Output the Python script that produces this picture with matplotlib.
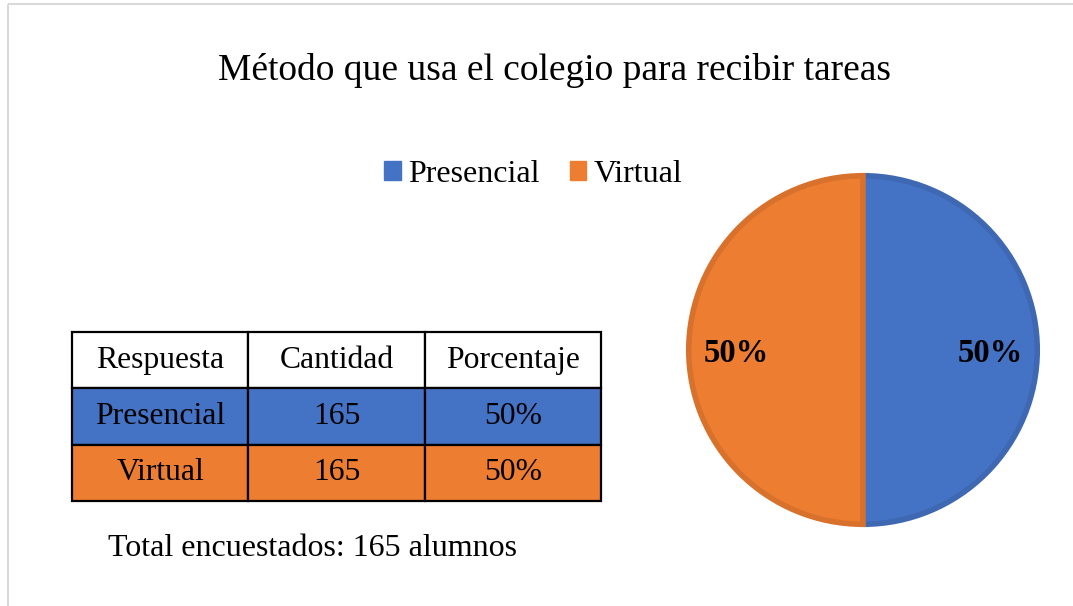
import matplotlib
matplotlib.use("Agg")
import matplotlib.pyplot as plt
from matplotlib.patches import Patch, Rectangle

plt.rcParams["font.family"] = ["Liberation Serif", "DejaVu Serif"]

TITLE = "Método que usa el colegio para recibir tareas"
labels = ["Presencial", "Virtual"]
counts = [165, 165]
pcts = ["50%", "50%"]
header = ["Respuesta", "Cantidad", "Porcentaje"]
total_text = "Total encuestados: 165 alumnos"
colors = ["#4472C4", "#ED7D31"]
edges = ["#3F68B3", "#D8712C"]

W, H = 1073, 606
fig = plt.figure(figsize=(W / 100, H / 100), dpi=100)

# background axes in pixel coordinates
bg = fig.add_axes([0, 0, 1, 1])
bg.set_xlim(0, W); bg.set_ylim(H, 0); bg.axis("off")
bg.add_patch(Rectangle((8, 4), W, H, fill=False, ec="#d9d9d9", lw=1.5))

fig.text(555 / W, 1 - 70 / H, TITLE, ha="center", va="center", fontsize=27)

# pie
ax = fig.add_axes([(863 - 176) / W, (H - 350 - 176) / H, 352 / W, 352 / H])
wedges, _, autotexts = ax.pie(counts, colors=colors, startangle=90, counterclock=False,
                              autopct="%1.0f%%", pctdistance=0.73,
                              wedgeprops=dict(linewidth=4))
for w, e in zip(wedges, edges):
    w.set_edgecolor(e)
for t in autotexts:
    t.set_fontsize(23.5); t.set_fontweight("bold")
    t.set_y(t.get_position()[1] - 0.02)
ax.set_xlim(-1.01, 1.01); ax.set_ylim(-1.01, 1.01)

handles = [Patch(color=c, label=l) for c, l in zip(colors, labels)]
fig.legend(handles=handles, loc="center", bbox_to_anchor=(533 / W, 1 - 174 / H), ncol=2,
           frameon=False, fontsize=23, handlelength=0.52, handleheight=0.55,
           handletextpad=0.22, columnspacing=0.95, borderpad=0)

# table
cell_text = [header] + [[l, str(c), p] for l, c, p in zip(labels, counts, pcts)]
cell_colors = [["white"] * 3] + [[c] * 3 for c in colors]
tab = bg.table(cellText=cell_text, cellColours=cell_colors, cellLoc="center",
               bbox=[72 / W, 1 - 501 / H, 529 / W, 169 / H])
tab.auto_set_font_size(False)
for (r, c), cell in tab.get_celld().items():
    cell.set_linewidth(1.6)
    cell.set_edgecolor("black")
    cell.get_text().set_fontsize(22.8)

fig.text(108 / W, 1 - 549 / H, total_text, ha="left", va="center", fontsize=23)

fig.savefig("out.png", dpi=100)
